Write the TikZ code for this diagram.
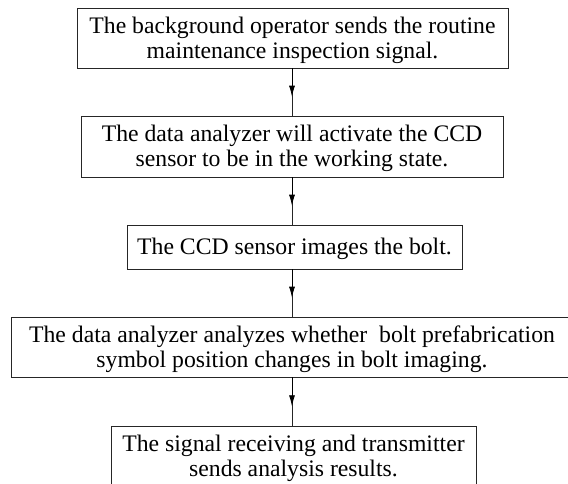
\documentclass[tikz,border=0pt]{standalone}
\usepackage{fontspec}
\setmainfont{Liberation Serif}
\newfontfamily\timesfont{Liberation Serif}
\usetikzlibrary{arrows.meta,calc}
\newcommand{\boxtext}[2][-3pt]{\raisebox{#1}[\height][\depth]{\begin{tabular}{@{}c@{}}#2\end{tabular}}}
\begin{document}
\begin{tikzpicture}[x=1pt,y=1pt,
  stepbox/.style={draw=black!85,line width=0.9pt,inner sep=0pt,align=center,
    font=\timesfont\fontsize{23.7}{25}\selectfont},
  link/.style={draw=black!85,line width=0.8pt},
  midtip/.style={draw=black,line width=0.8pt,-{Latex[length=11pt,width=6pt]}}]
\useasboundingbox (0,0) rectangle (568,-484);
\begin{scope}
\clip (0,0) rectangle (568,-484);
\node[stepbox,minimum width=431pt,minimum height=60pt] (b1) at (292.5,-38)
  {\boxtext{The background operator sends the routine\\maintenance inspection signal.}};
\node[stepbox,minimum width=422pt,minimum height=61pt] (b2) at (292,-146.5)
  {\boxtext{The data analyzer will activate the CCD\\sensor to be in the working state.}};
\node[stepbox,minimum width=335pt,minimum height=44pt] (b3) at (294.5,-247)
  {\boxtext{The CCD sensor images the bolt.}};
\node[stepbox,minimum width=562pt,minimum height=60pt] (b4) at (292,-347)
  {\boxtext{The data analyzer analyzes whether~ bolt prefabrication\\symbol position changes in bolt imaging.}};
\node[stepbox,minimum width=365pt,minimum height=68pt] (b5) at (293.5,-460)
  {\boxtext[1pt]{The signal receiving and transmitter\\sends analysis results.}};
\foreach \a/\b in {b1/b2,b2/b3,b3/b4,b4/b5}{
  \draw[link] (\a.south -| 292,0) -- (\b.north -| 292,0);
  \draw[midtip] (\a.south -| 292,0) -- ($(\a.south -| 292,0)!0.6!(\b.north -| 292,0)$);
}
\end{scope}
\end{tikzpicture}
\end{document}
